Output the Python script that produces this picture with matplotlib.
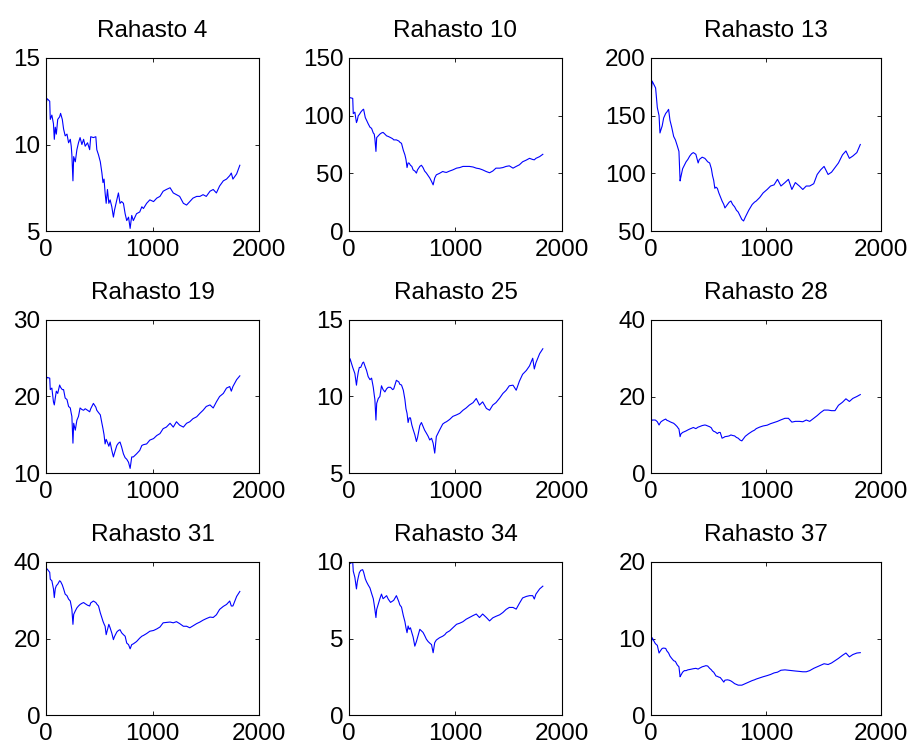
import numpy as np
import matplotlib
matplotlib.use("Agg")
import matplotlib.pyplot as plt

plt.rcParams['font.family'] = ['Liberation Sans', 'DejaVu Sans']

# trading day index shared by all funds
days = [0, 10, 35, 40, 55, 70, 78, 87, 97, 110,
        128, 137, 153, 165, 180, 197, 212, 228, 237, 243,
        253, 260, 275, 290, 305, 320, 337, 353, 368, 390,
        410, 420, 445, 468, 477, 493, 510, 525, 535, 545,
        555, 565, 577, 590, 602, 618, 633, 643, 665, 680,
        695, 710, 727, 743, 758, 775, 790, 805, 820, 850,
        880, 900, 915, 945, 975, 1010, 1040, 1070, 1100, 1130,
        1165, 1195, 1225, 1255, 1290, 1320, 1350, 1380, 1415, 1445,
        1475, 1505, 1540, 1570, 1600, 1630, 1665, 1695, 1725, 1740,
        1755, 1790, 1820]

fund4 = [12.3, 12.65, 12.5, 11.45, 11.7, 11.2, 10.3, 11.0, 10.6, 11.45,
         11.6, 11.8, 11.45, 10.9, 10.5, 10.6, 10.1, 10.3, 9.9, 9.4,
         7.9, 9.3, 9.0, 9.7, 10.1, 10.4, 10.0, 10.3, 9.9, 10.1,
         9.7, 10.45, 10.4, 10.45, 9.7, 9.4, 9.0, 8.35, 7.8, 8.0,
         7.2, 6.6, 7.4, 6.6, 6.8, 6.4, 5.8, 6.2, 6.8, 7.2,
         6.6, 6.7, 6.6, 6.0, 5.6, 5.8, 5.15, 5.9, 5.6, 6.0,
         6.1, 6.4, 6.3, 6.6, 6.8, 6.7, 6.9, 7.0, 7.3, 7.4,
         7.5, 7.2, 7.1, 7.0, 6.6, 6.5, 6.7, 6.9, 7.0, 7.0,
         7.1, 7.0, 7.3, 7.4, 7.2, 7.6, 7.9, 8.0, 8.2, 8.35,
         8.0, 8.3, 8.8]

fund10 = [114.7, 115.6, 115.0, 101.8, 103.0, 94.0, 96.0, 100.0, 101.0, 103.0,
          105.0, 105.6, 98.3, 96.0, 93.0, 90.0, 89.0, 85.0, 84.0, 80.0,
          69.0, 81.0, 82.5, 84.0, 85.0, 85.5, 84.0, 82.5, 82.0, 81.0,
          80.0, 79.0, 79.0, 78.0, 77.0, 76.0, 70.0, 66.0, 62.0, 55.0,
          59.0, 58.8, 57.0, 56.0, 53.0, 52.0, 50.2, 53.0, 56.0, 57.0,
          55.0, 52.0, 50.2, 48.0, 46.0, 43.0, 40.0, 46.0, 48.7, 50.0,
          51.6, 51.0, 50.8, 52.0, 53.0, 54.5, 55.0, 56.0, 56.0, 56.0,
          55.5, 54.5, 54.0, 53.0, 51.5, 50.5, 52.0, 54.5, 54.5, 55.0,
          56.0, 56.5, 54.5, 56.0, 57.4, 60.0, 61.5, 63.0, 62.0, 61.7,
          63.0, 64.5, 66.5]

fund13 = [167, 180, 175, 174, 157, 150, 135, 138, 141, 148,
          152, 153, 155.5, 146, 140, 132, 129, 124, 121, 119,
          93.4, 97, 104, 107, 110, 112, 115, 117, 118, 116.5,
          109, 112, 114, 113, 112, 110, 109, 104, 98, 94,
          87, 88, 87, 83, 80, 76, 73, 70, 73, 75,
          76, 73, 71, 68, 66.5, 63, 60, 58.7, 62, 68,
          73, 75, 76, 79, 83, 86, 89, 90, 94.8, 89,
          92, 94.8, 86, 92, 89, 86, 89, 89, 91, 99,
          103, 106, 99, 101, 105, 109, 116, 119.4, 113, 114,
          115, 118, 125]

fund19 = [22.0, 22.5, 22.4, 20.9, 21.1, 19.3, 18.9, 19.8, 20.7, 20.4,
          21.5, 21.2, 20.9, 20.9, 19.8, 19.6, 18.7, 18.5, 17.8, 17.4,
          13.9, 16.5, 15.6, 16.9, 17.4, 18.5, 18.3, 18.2, 18.4, 18.2,
          18.0, 18.4, 19.1, 18.6, 18.2, 17.9, 17.6, 16.5, 15.8, 15.0,
          13.8, 14.4, 14.0, 13.5, 14.05, 12.95, 12.1, 12.6, 13.6, 13.9,
          14.05, 13.4, 12.5, 12.0, 11.8, 11.4, 10.6, 12.1, 12.1, 12.5,
          12.95, 13.6, 13.7, 13.8, 14.3, 14.5, 14.9, 15.15, 15.8, 16.0,
          16.5, 16.0, 16.7, 16.25, 16.0, 16.5, 16.7, 17.1, 17.35, 17.8,
          18.2, 18.7, 18.9, 18.5, 19.3, 20.0, 20.4, 21.1, 21.3, 20.7,
          21.3, 22.2, 22.7]

fund25 = [12.1, 12.47, 11.9, 11.8, 11.5, 10.74, 11.2, 11.6, 11.9, 11.9,
          12.2, 12.25, 11.93, 11.7, 11.3, 11.1, 11.2, 10.6, 10.1, 9.8,
          8.46, 9.55, 9.87, 10.0, 10.7, 10.45, 10.3, 10.5, 10.6, 10.6,
          10.45, 10.5, 11.06, 10.95, 10.8, 10.75, 10.41, 9.8, 9.2, 8.9,
          8.3, 8.6, 8.6, 8.14, 7.85, 7.5, 7.06, 7.3, 8.1, 8.3,
          8.05, 7.8, 7.6, 7.4, 7.16, 7.27, 6.95, 6.3, 7.38, 7.8,
          8.2, 8.3, 8.35, 8.5, 8.7, 8.8, 8.9, 9.1, 9.25, 9.44,
          9.6, 9.87, 9.44, 9.65, 9.22, 9.1, 9.44, 9.6, 9.9, 10.2,
          10.4, 10.7, 10.74, 10.41, 11.0, 11.45, 11.7, 12.0, 12.5, 11.8,
          12.2, 12.8, 13.12]

fund28 = [13.4, 13.85, 13.85, 13.8, 13.4, 12.55, 13.0, 13.4, 13.6, 13.85,
          14.1, 13.8, 13.6, 13.4, 13.2, 13.0, 12.6, 12.1, 11.7, 11.5,
          9.5, 10.2, 10.6, 10.8, 11.0, 11.25, 11.5, 11.7, 11.9, 11.6,
          12.0, 12.1, 12.4, 12.55, 12.5, 12.3, 12.1, 11.8, 11.2, 10.9,
          10.8, 10.6, 10.3, 10.6, 10.6, 9.1, 9.3, 9.5, 9.6, 9.7,
          9.95, 9.8, 9.7, 9.3, 9.1, 8.6, 8.4, 9.0, 9.6, 10.3,
          10.9, 11.2, 11.6, 12.0, 12.3, 12.5, 12.9, 13.2, 13.5, 13.9,
          14.3, 14.3, 13.3, 13.5, 13.5, 13.4, 13.85, 13.5, 14.3, 15.0,
          15.8, 16.45, 16.45, 16.3, 16.3, 17.7, 18.5, 19.4, 18.7, 19.1,
          19.5, 20.0, 20.5]

fund31 = [37.8, 38.2, 37.3, 35.5, 35.1, 33.0, 30.7, 33.0, 33.8, 34.2,
          35.1, 34.9, 34.0, 33.0, 31.6, 31.2, 30.3, 29.8, 28.5, 27.6,
          23.7, 26.3, 27.2, 28.0, 28.5, 28.9, 29.2, 29.4, 29.1, 28.7,
          28.5, 29.3, 29.8, 29.4, 29.0, 28.5, 26.7, 25.4, 24.5, 23.8,
          23.2, 21.0, 22.3, 23.7, 22.8, 21.4, 19.7, 20.5, 21.7, 22.1,
          22.3, 21.5, 21.0, 20.6, 18.8, 18.4, 17.3, 18.4, 18.6, 19.2,
          20.1, 20.6, 20.8, 21.3, 21.9, 22.1, 22.5, 23.0, 24.1, 24.2,
          24.3, 24.1, 24.4, 23.9, 23.2, 23.2, 22.8, 23.3, 23.9, 24.3,
          24.8, 25.2, 25.6, 25.5, 26.2, 27.6, 28.4, 28.9, 29.8, 28.5,
          28.5, 31.0, 32.3]

fund34 = [10.0, 9.9, 10.0, 9.4, 9.0, 8.24, 8.7, 9.0, 9.3, 9.45,
          9.5, 9.34, 8.9, 8.7, 8.5, 8.3, 7.95, 7.6, 7.2, 6.9,
          6.37, 6.9, 7.25, 7.6, 7.9, 7.6, 7.7, 7.8, 7.58, 7.36,
          7.45, 7.5, 7.8, 7.4, 7.2, 7.05, 6.5, 6.1, 5.7, 5.38,
          5.82, 5.6, 5.7, 5.38, 5.1, 4.5, 4.8, 5.05, 5.6, 5.5,
          5.4, 5.2, 4.95, 4.8, 4.7, 4.6, 4.07, 4.73, 4.9, 5.05,
          5.15, 5.25, 5.38, 5.5, 5.7, 5.93, 6.0, 6.1, 6.26, 6.37,
          6.5, 6.6, 6.37, 6.6, 6.37, 6.15, 6.35, 6.45, 6.55, 6.7,
          6.9, 7.03, 7.03, 6.92, 7.3, 7.65, 7.75, 7.8, 7.8, 7.58,
          7.9, 8.24, 8.42]

fund37 = [9.2, 10.1, 9.4, 9.3, 9.1, 8.1, 8.3, 8.5, 8.7, 8.75,
          8.7, 8.4, 8.1, 7.7, 7.4, 7.1, 7.0, 6.55, 6.4, 6.3,
          5.0, 5.2, 5.6, 5.8, 5.8, 5.9, 5.95, 6.0, 6.05, 6.1,
          6.0, 6.1, 6.3, 6.4, 6.45, 6.4, 6.1, 5.9, 5.7, 5.6,
          5.35, 5.1, 5.05, 4.95, 4.9, 4.6, 4.3, 4.55, 4.6, 4.55,
          4.45, 4.3, 4.1, 4.0, 3.9, 3.9, 3.9, 4.0, 4.1, 4.3,
          4.5, 4.6, 4.7, 4.85, 5.0, 5.15, 5.3, 5.5, 5.6, 5.85,
          5.9, 5.85, 5.8, 5.75, 5.7, 5.65, 5.65, 5.8, 6.1, 6.3,
          6.5, 6.7, 6.6, 6.8, 7.1, 7.4, 7.8, 8.1, 7.6, 7.75,
          7.9, 8.1, 8.15]

titles = ['Rahasto 4', 'Rahasto 10', 'Rahasto 13',
          'Rahasto 19', 'Rahasto 25', 'Rahasto 28',
          'Rahasto 31', 'Rahasto 34', 'Rahasto 37']
series = [fund4, fund10, fund13, fund19, fund25, fund28, fund31, fund34, fund37]
ylims = [(5, 15), (0, 150), (50, 200), (10, 30), (5, 15), (0, 40), (0, 40), (0, 10), (0, 20)]
yticks = [[5, 10, 15], [0, 50, 100, 150], [50, 100, 150, 200], [10, 20, 30],
          [5, 10, 15], [0, 20, 40], [0, 20, 40], [0, 5, 10], [0, 10, 20]]

W, H = 912, 744
fig = plt.figure(figsize=(W / 100, H / 100), dpi=100)

# axes boxes in pixels (left, right) and (top, bottom)
cols = [(46, 259), (349, 562), (651, 881)]
rows = [(58, 231), (320, 473), (562, 715)]

for i in range(9):
    r, c = divmod(i, 3)
    x0, x1 = cols[c]
    y0, y1 = rows[r]
    ax = fig.add_axes([x0 / W, 1 - y1 / H, (x1 - x0) / W, (y1 - y0) / H])
    ax.plot(days, series[i], color=(0, 0, 1), lw=0.8)
    ax.set_xlim(0, 2000)
    ax.set_ylim(*ylims[i])
    ax.set_xticks([0, 1000, 2000])
    ax.set_yticks(yticks[i])
    ax.tick_params(direction='in', length=3, width=0.6, top=True, right=True,
                   labelsize=17.5, pad=4)
    ax.tick_params(axis='x', pad=6)
    for s in ax.spines.values():
        s.set_linewidth(0.8)
    ax.set_title(titles[i], fontsize=17.5, pad=15)

fig.savefig('out.png', dpi=100)
